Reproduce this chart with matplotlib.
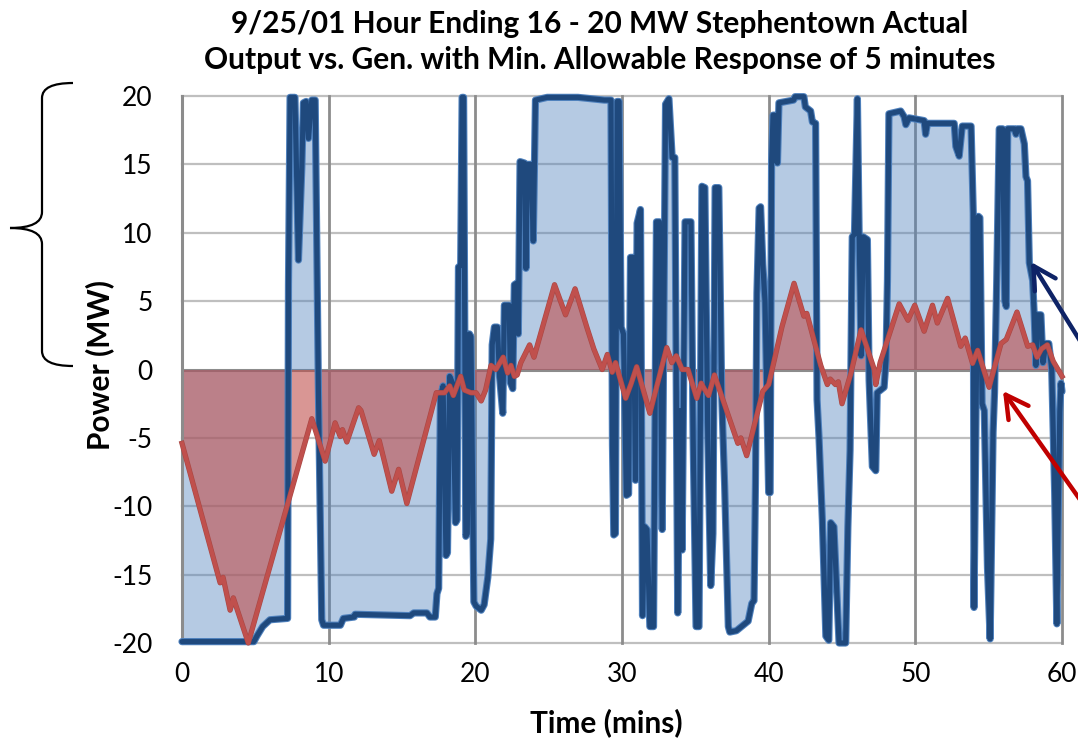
import matplotlib
matplotlib.use("Agg")
import matplotlib.pyplot as plt
from matplotlib.path import Path
from matplotlib.patches import PathPatch, FancyArrowPatch

plt.rcParams['font.family'] = ['Lato', 'DejaVu Sans']
plt.rcParams['axes.unicode_minus'] = False

# Stephentown actual output (time in mins, MW)
actual = [
    (0.0, -19.9), (4.9, -19.9), (5.1, -19.5), (5.5, -18.8), (6.0, -18.3), (7.2, -18.2),
    (7.26, 6.2), (7.37, 19.9), (7.7, 19.9), (7.94, 8.0), (8.17, 14.8), (8.28, 19.5),
    (8.46, 19.6), (8.62, 16.9), (8.85, 19.7), (9.08, 19.7), (9.3, -1.5), (9.53, -18.3),
    (9.65, -18.7), (10.8, -18.7), (11.0, -18.2), (11.75, -18.1), (11.8, -17.9), (15.55, -18.0),
    (15.8, -17.8), (16.7, -17.8), (16.9, -18.1), (17.27, -18.1), (17.38, -16.4), (17.5, -16.0),
    (17.62, -2.0), (17.8, -1.2), (18.0, -13.6), (18.1, -13.4), (18.25, -0.5), (18.45, -1.0),
    (18.65, -11.2), (18.75, -11.0), (18.85, 7.5), (19.0, 7.6), (19.1, 19.9), (19.2, 19.9),
    (19.35, -12.2), (19.45, -12.0), (19.6, 2.6), (19.7, 2.4), (19.9, -17.0), (20.05, -17.3),
    (20.4, -17.6), (20.6, -17.2), (20.85, -15.2), (21.05, -12.4), (21.15, 1.8), (21.3, 3.1),
    (21.5, 3.1), (21.65, -0.5), (21.87, -3.2), (21.98, 4.7), (22.3, 4.7), (22.4, -1.0),
    (22.55, -1.4), (22.66, 6.2), (22.8, 6.3), (22.93, 2.6), (23.05, 15.2), (23.35, 15.1),
    (23.45, 7.4), (23.55, 15.0), (23.8, 15.0), (23.95, 9.4), (24.1, 19.7), (24.9, 19.9),
    (27.0, 19.9), (28.8, 19.7), (29.25, 19.7), (29.35, -5.5), (29.44, -12.1), (29.55, -12.0),
    (29.67, 19.6), (29.8, 19.6), (29.94, 3.1), (30.1, 2.6), (30.3, -9.2), (30.45, -9.1),
    (30.58, 8.2), (30.75, 8.2), (30.92, -8.1), (31.03, 10.7), (31.26, 11.7), (31.4, -18.0),
    (31.55, -11.5), (31.7, -11.7), (31.9, -18.8), (32.15, -18.8), (32.35, 10.8), (32.55, 10.8),
    (32.74, -11.7), (32.97, 19.4), (33.2, 19.8), (33.42, 15.5), (33.6, 15.5), (33.8, -17.8),
    (33.95, -3.0), (34.1, -13.2), (34.3, 10.8), (34.7, 10.8), (34.85, -5.0), (35.05, -18.8),
    (35.25, -18.8), (35.45, 13.4), (35.65, 13.3), (35.85, -5.0), (36.05, -15.8), (36.2, -12.0),
    (36.35, 13.3), (36.6, 13.3), (36.8, -2.0), (37.0, -8.5), (37.25, -18.8), (37.35, -19.2),
    (37.8, -19.1), (38.6, -18.4), (38.85, -17.1), (39.0, -16.9), (39.1, -8.3), (39.2, 5.6),
    (39.35, 11.8), (39.45, 11.9), (39.6, 7.7), (39.75, 5.0), (40.0, -9.0), (40.1, -9.0),
    (40.2, 15.3), (40.3, 18.6), (40.4, 18.6), (40.47, 15.3), (40.6, 15.1), (40.7, 19.5),
    (41.7, 19.7), (41.8, 19.95), (42.4, 19.95), (42.5, 19.2), (42.86, 18.9), (42.98, 18.1),
    (43.2, 18.0), (43.3, -2.2), (43.43, -4.9), (43.66, -11.0), (43.9, -19.5), (44.1, -19.8),
    (44.23, -11.2), (44.45, -11.5), (44.8, -20.0), (45.25, -20.0), (45.4, -11.5), (45.55, -5.9),
    (45.7, 9.7), (45.85, 9.9), (46.05, 19.8), (46.16, 10.5), (46.3, 1.0), (46.45, 9.7),
    (46.73, 9.5), (46.85, -0.8), (47.07, -7.1), (47.3, -7.4), (47.4, -1.7), (47.87, -1.3),
    (48.0, 0.7), (48.1, 6.5), (48.2, 18.7), (49.0, 18.9), (49.23, 18.5), (49.35, 17.9),
    (49.58, 18.4), (50.6, 18.2), (50.7, 17.2), (50.83, 18.0), (52.65, 18.0), (52.76, 16.3),
    (52.99, 15.6), (53.2, 17.8), (53.8, 17.8), (53.95, 11.4), (54.0, -17.4), (54.15, -2.0),
    (54.3, 11.2), (54.4, 11.1), (54.55, -2.5), (54.7, -3.0), (54.92, -14.5), (55.1, -19.7),
    (55.3, -4.6), (55.4, -1.7), (55.55, 6.5), (55.72, 17.6), (55.95, 17.6), (56.1, 5.0),
    (56.2, 4.6), (56.3, 17.6), (56.75, 17.6), (56.86, 17.2), (56.95, 17.6), (57.2, 17.6),
    (57.43, 16.5), (57.54, 14.1), (57.65, 13.8), (57.77, 7.8), (58.0, 6.5), (58.1, 4.1),
    (58.22, 0.3), (58.33, 4.0), (58.56, 4.0), (58.7, 0.5), (58.9, 1.9), (59.1, 1.9),
    (59.3, 0.0), (59.5, -9.0), (59.65, -18.6), (59.75, -10.0), (59.85, -3.1), (59.93, -1.0),
    (60.0, -1.6),
]

# generation with 5 minute min. allowable response
gen = [
    (0.0, -5.4), (2.6, -15.6), (2.8, -15.2), (3.28, -17.6), (3.5, -16.7), (4.52, -20.0),
    (8.85, -3.6), (9.76, -6.7), (10.44, -3.9), (10.79, -4.9), (10.94, -4.4), (11.24, -5.3),
    (12.04, -2.8), (12.2, -3.0), (13.1, -6.2), (13.45, -5.2), (14.3, -8.9), (14.77, -7.3),
    (15.33, -9.8), (17.34, -1.7), (17.9, -1.7), (18.25, -1.2), (18.5, -1.9), (19.0, -0.5),
    (19.25, -1.5), (19.7, -1.7), (20.05, -1.7), (20.4, -2.3), (20.7, -1.5), (21.07, 0.3),
    (21.4, 0.0), (21.9, 0.9), (22.2, -0.25), (22.43, 0.3), (22.66, -0.5), (22.85, -0.4),
    (23.1, 0.5), (23.7, 1.8), (24.0, 0.9), (25.4, 6.2), (26.15, 4.0), (26.8, 5.9),
    (27.6, 3.1), (28.08, 1.5), (28.65, 0.0), (29.0, 1.1), (29.33, -0.2), (29.56, 0.5),
    (30.25, -2.1), (30.6, -1.1), (31.0, 0.2), (31.9, -3.2), (33.05, 1.6), (33.4, 0.5),
    (33.7, 1.0), (34.1, 0.0), (34.5, 0.0), (35.1, -2.1), (35.4, -1.0), (35.6, -1.4),
    (35.9, -1.9), (36.3, -0.4), (37.9, -5.4), (38.1, -5.0), (38.5, -6.3), (39.6, -1.6),
    (40.0, -1.1), (40.9, 3.1), (41.73, 6.3), (42.4, 3.9), (42.6, 4.1), (43.55, 0.3),
    (44.0, -1.1), (44.2, -0.7), (44.55, -1.1), (44.75, -0.9), (45.0, -2.5), (45.6, -0.3),
    (46.3, 2.9), (47.2, 0.0), (47.3, -1.1), (47.6, 0.5), (48.9, 4.8), (49.5, 3.6),
    (49.96, 4.7), (50.6, 2.8), (51.17, 4.7), (51.5, 3.4), (52.2, 5.2), (53.1, 1.7),
    (53.4, 2.3), (53.9, 0.45), (54.25, 1.4), (54.6, 0.2), (55.03, -1.3), (55.84, 1.9),
    (56.2, 2.2), (56.93, 4.2), (57.66, 1.7), (58.0, 1.8), (58.3, 0.9), (58.6, 1.5),
    (59.0, 1.8), (59.4, 0.6), (60.0, -0.5),
]

x_ticks = [0, 10, 20, 30, 40, 50, 60]
y_ticks = [-20, -15, -10, -5, 0, 5, 10, 15, 20]

title = ("9/25/01 Hour Ending 16 - 20 MW Stephentown Actual\n"
         "Output vs. Gen. with Min. Allowable Response of 5 minutes")

act_t = [p[0] for p in actual]
act_v = [p[1] for p in actual]
gen_t = [p[0] for p in gen]
gen_v = [p[1] for p in gen]

W, H = 1078, 745
fig = plt.figure(figsize=(W / 100, H / 100), dpi=100)
ax = fig.add_axes([182 / W, 1 - 643 / H, 880 / W, 547 / H])

def fpx(x, y):
    # pixel position -> figure fraction
    return (x / W, 1 - y / H)

# gridlines
for y in y_ticks:
    if y == 0:
        continue
    ax.axhline(y, color='#BFBFBF', lw=1.6, zorder=0, clip_on=False)
for x in x_ticks:
    ax.axvline(x, color='#8C8C8C', lw=2.0, zorder=0.5, clip_on=False)
ax.axhline(0, color='#8C8C8C', lw=2.2, zorder=0.6)

# filled areas
ax.fill_between(act_t, act_v, 0, color='#4F81BD', alpha=0.42, lw=0, zorder=1)
ax.fill_between(gen_t, gen_v, 0, color='#C0504D', alpha=0.6, lw=0, zorder=2)

# lines
ax.plot(act_t, act_v, color='#4F81BD', lw=5.2, zorder=3, clip_on=False,
        solid_joinstyle='round', solid_capstyle='round')
ax.plot(act_t, act_v, color='#1F497D', lw=3.7, zorder=3.1, clip_on=False,
        solid_joinstyle='round', solid_capstyle='round')
ax.plot(gen_t, gen_v, color='#A94845', lw=3.8, zorder=4, clip_on=False,
        solid_joinstyle='round')
ax.plot(gen_t, gen_v, color='#C0504D', lw=2.9, zorder=4.1, clip_on=False,
        solid_joinstyle='round')

ax.set_xlim(0, 60)
ax.set_ylim(-20, 20)
ax.set_xticks(x_ticks)
ax.set_yticks(y_ticks)
ax.tick_params(axis='both', length=0, labelsize=19)
ax.tick_params(axis='y', pad=21)
ax.tick_params(axis='x', pad=14)
for s in ['top', 'right', 'bottom']:
    ax.spines[s].set_visible(False)
ax.spines['left'].set_color('#8C8C8C')
ax.spines['left'].set_linewidth(2.2)

ax.set_xlabel('Time (mins)', fontsize=21.5, fontweight='bold')
ax.xaxis.set_label_coords((606 - 182) / 880, (643 - 708) / 547)
ax.set_ylabel('Power (MW)', fontsize=21.5, fontweight='bold')
ax.yaxis.set_label_coords((114 - 182) / 880, (643 - 365) / 547)

fig.text(600 / W, 1 - 42 / H, title, ha='center', va='center',
         fontsize=21.5, fontweight='bold', linespacing=1.38)

# curly brace on the left
brace = [(73, 83), (42, 83), (42, 98), (42, 212), (42, 228), (10, 228),
         (42, 228), (42, 244), (42, 351), (42, 366), (73, 366)]
codes = [Path.MOVETO, Path.CURVE3, Path.CURVE3, Path.LINETO, Path.CURVE3, Path.CURVE3,
         Path.CURVE3, Path.CURVE3, Path.LINETO, Path.CURVE3, Path.CURVE3]
fig.add_artist(PathPatch(Path([fpx(*p) for p in brace], codes), fill=False,
                         lw=1.6, edgecolor='black', transform=fig.transFigure))

# callout arrows on the right
for start, tip, col in [((1120, 405), (1031, 262), '#0E2366'),
                        ((1120, 556), (1003, 391), '#C00000')]:
    fig.add_artist(FancyArrowPatch(fpx(*start), fpx(*tip), transform=fig.transFigure,
                                   arrowstyle='->,head_length=1.0,head_width=0.55',
                                   mutation_scale=16, lw=3.2, color=col,
                                   shrinkA=0, shrinkB=0))

fig.savefig('out.png', dpi=100)
